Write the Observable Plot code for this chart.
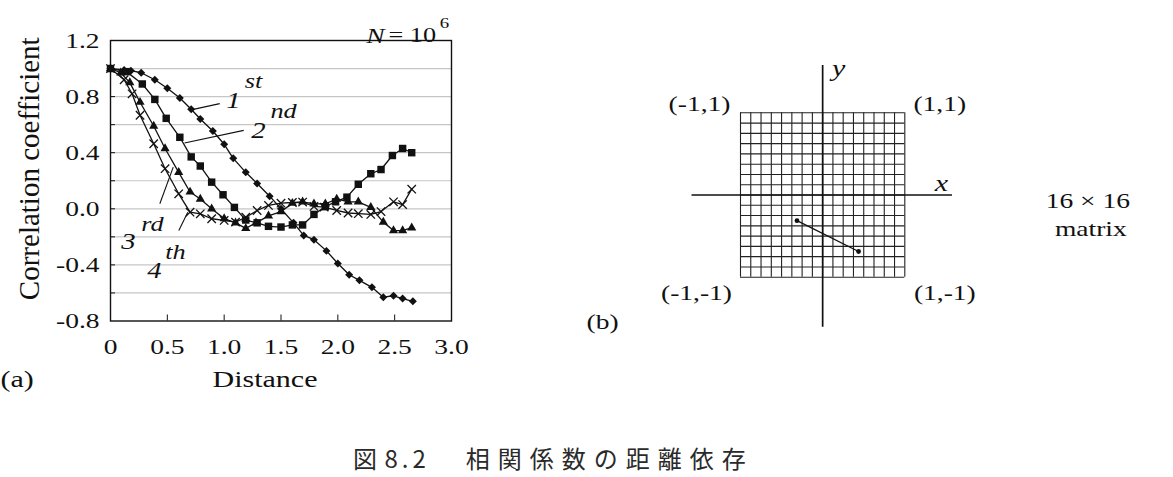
<!DOCTYPE html>
<html><head><meta charset="utf-8">
<script src="https://cdn.jsdelivr.net/npm/d3@7"></script>
<script src="https://cdn.jsdelivr.net/npm/@observablehq/plot@0.6"></script>
<style>
html,body{margin:0;padding:0;background:#fff;}
#fig{position:relative;width:1173px;height:477px;overflow:hidden;background:#fff;}
#caption{position:absolute;left:353px;top:446px;font-family:"Noto Sans CJK JP";font-weight:400;font-size:24px;line-height:24px;white-space:pre;color:#2a2a2a;}
</style></head>
<body><div id="fig"><div id="caption"><span style="letter-spacing:1px">図 </span><span style="letter-spacing:4px">8.2</span><span style="letter-spacing:12px">　</span><span style="letter-spacing:8px">相関係数の距離依存</span></div></div>
<script>
// ---- panel (a) data: correlation coefficient vs distance (N = 10^6) ----
const s1x = [0, 0.12, 0.18, 0.27, 0.39, 0.50, 0.61, 0.71, 0.79, 0.90, 1.00, 1.08, 1.19, 1.29, 1.40, 1.50, 1.61, 1.70, 1.79, 1.90, 2.00, 2.10, 2.19, 2.30, 2.40, 2.49, 2.57, 2.66];
const s1y = [1.00, 0.99, 0.985, 0.97, 0.92, 0.86, 0.79, 0.71, 0.64, 0.555, 0.46, 0.36, 0.26, 0.18, 0.09, 0.00, -0.10, -0.19, -0.22, -0.30, -0.39, -0.47, -0.51, -0.56, -0.63, -0.62, -0.64, -0.66];
const s2x = [0, 0.14, 0.28, 0.39, 0.49, 0.61, 0.71, 0.79, 0.89, 0.99, 1.09, 1.19, 1.29, 1.39, 1.50, 1.60, 1.69, 1.79, 1.89, 1.98, 2.08, 2.18, 2.29, 2.38, 2.48, 2.57, 2.65];
const s2y = [1.00, 0.978, 0.89, 0.78, 0.645, 0.51, 0.37, 0.305, 0.19, 0.10, 0.01, -0.08, -0.10, -0.125, -0.13, -0.115, -0.115, -0.04, 0.015, 0.05, 0.083, 0.175, 0.25, 0.28, 0.38, 0.43, 0.40];
const s3x = [0, 0.09, 0.17, 0.26, 0.38, 0.48, 0.60, 0.70, 0.79, 0.89, 1.00, 1.10, 1.19, 1.28, 1.39, 1.50, 1.60, 1.69, 1.79, 1.89, 1.99, 2.09, 2.18, 2.29, 2.40, 2.49, 2.57, 2.65];
const s3y = [1.00, 0.97, 0.90, 0.76, 0.59, 0.43, 0.26, 0.12, 0.07, 0.00, -0.07, -0.10, -0.14, -0.10, -0.05, -0.02, 0.04, 0.05, 0.035, 0.035, 0.07, 0.05, 0.05, 0.01, -0.095, -0.155, -0.155, -0.135];
const s4x = [0, 0.12, 0.19, 0.26, 0.38, 0.48, 0.60, 0.70, 0.79, 0.89, 1.00, 1.10, 1.19, 1.29, 1.39, 1.50, 1.60, 1.69, 1.79, 1.88, 1.99, 2.09, 2.18, 2.29, 2.38, 2.49, 2.57, 2.65];
const s4y = [1.00, 0.92, 0.82, 0.667, 0.464, 0.286, 0.107, -0.024, -0.036, -0.071, -0.083, -0.095, -0.06, -0.012, 0.024, 0.04, 0.045, 0.048, 0.017, 0.012, -0.012, -0.03, -0.035, -0.04, -0.02, 0.05, 0.03, 0.14];

const seriesNames = ["1st", "2nd", "3rd", "4th"];
const seriesSymbols = ["diamond2", "square", "triangle", "times"];

const xTicks = [0, 0.5, 1.0, 1.5, 2.0, 2.5, 3.0];
const yTicks = [-0.8, -0.4, 0.0, 0.4, 0.8, 1.2];
const yGrid = [-0.6, -0.4, -0.2, 0.0, 0.2, 0.4, 0.6, 0.8, 1.0];

// labels 1st..4th (position in data units) and their leader lines
const labelNums = [{x: 1.082, y: 0.774, t: "1"}, {x: 1.302, y: 0.559, t: "2"}, {x: 0.158, y: -0.234, t: "3"}, {x: 0.387, y: -0.441, t: "4"}];
const labelSups = [{x: 1.258, y: 0.912, t: "st"}, {x: 1.522, y: 0.698, t: "nd"}, {x: 0.369, y: -0.109, t: "rd"}, {x: 0.572, y: -0.309, t: "th"}];
const leaders = [
  {x1: 0.719, y1: 0.707, x2: 0.961, y2: 0.750},
  {x1: 0.651, y1: 0.469, x2: 1.172, y2: 0.559},
  {x1: 0.434, y1: 0.036, x2: 0.552, y2: 0.297},
  {x1: 0.601, y1: -0.155, x2: 0.680, y2: -0.024}
];

// ---- panel (b) data ----
const matrixSize = 16;
const pairPoints = [{x: -0.3125, y: -0.3125}, {x: 0.4375, y: -0.6875}];
const corners = [{x: -1, y: 1, t: "(-1,1)"}, {x: 1, y: 1, t: "(1,1)"}, {x: -1, y: -1, t: "(-1,-1)"}, {x: 1, y: -1, t: "(1,-1)"}];

const FONT = "'Liberation Serif', 'Times New Roman', serif";
const INK = "#111";

const xs = [s1x, s2x, s3x, s4x], ys = [s1y, s2y, s3y, s4y];
const rows = seriesNames.flatMap((name, k) => xs[k].map((x, i) => ({series: name, x, y: ys[k][i]})));

const frameW = 341, frameH = 280.5;

const dotMarks = seriesNames.map((name, k) => {
  const data = rows.filter(r => r.series === name);
  const sym = seriesSymbols[k];
  if (sym === "times") return Plot.dot(data, {x: "x", y: "y", symbol: sym, r: 3.9, stroke: INK, strokeWidth: 1.3, fill: "none"});
  const r = sym === "diamond2" ? 3.6 : sym === "square" ? 4.2 : 3.4;
  return Plot.dot(data, {x: "x", y: "y", symbol: sym, r, fill: INK, stroke: "none"});
});

const plotA = Plot.plot({
  width: 471, height: 410,
  marginLeft: 110, marginRight: 20, marginTop: 40, marginBottom: 89.5,
  style: {fontFamily: FONT, background: "transparent", overflow: "visible"},
  x: {domain: [0, 3]},
  y: {domain: [-0.8, 1.2]},
  marks: [
    Plot.ruleY(yGrid, {stroke: "#c6c6c6", strokeWidth: 1.2}),
    Plot.tickX(xTicks.slice(1, -1), {x: d => d, insetTop: frameH - 6, stroke: INK, strokeWidth: 1}),
    Plot.tickY(yGrid, {y: d => d, insetRight: frameW - 5, stroke: INK, strokeWidth: 1}),
    Plot.frame({stroke: INK, strokeWidth: 1.4}),
    Plot.axisX(xTicks, {tickSize: 0, tickPadding: 17, tickFormat: d => d === 0 ? "0" : d.toFixed(1), fontSize: 22, fill: INK, label: null}),
    Plot.axisY(yTicks, {tickSize: 0, tickPadding: 11, tickFormat: d => d.toFixed(1), fontSize: 22, fill: INK, label: null}),
    Plot.line(rows, {x: "x", y: "y", z: "series", stroke: INK, strokeWidth: 1.3}),
    ...dotMarks,
    Plot.link(leaders, {x1: "x1", y1: "y1", x2: "x2", y2: "y2", stroke: INK, strokeWidth: 1.1}),
    Plot.text(labelNums, {x: "x", y: "y", text: "t", fontSize: 23, fontStyle: "italic", fill: INK}),
    Plot.text(labelSups, {x: "x", y: "y", text: "t", fontSize: 21, fontStyle: "italic", fill: INK}),
    Plot.text(["N"], {frameAnchor: "top-right", textAnchor: "middle", dx: -76, dy: -13, fontSize: 22, fontStyle: "italic", fill: INK}),
    Plot.text(["= 10"], {frameAnchor: "top-right", textAnchor: "start", dx: -63, dy: -13, fontSize: 21, fill: INK}),
    Plot.text(["6"], {frameAnchor: "top-right", textAnchor: "middle", dx: -7, dy: -23, fontSize: 15, fill: INK}),
    Plot.text(["Correlation coefficient"], {frameAnchor: "left", textAnchor: "middle", rotate: -90, dx: -81, dy: -12, fontSize: 29, fill: INK}),
    Plot.text(["Distance"], {frameAnchor: "bottom", textAnchor: "middle", dx: -16, dy: 65.5, fontSize: 24, fill: INK}),
    Plot.text(["(a)"], {frameAnchor: "bottom-left", textAnchor: "start", dx: -110, dy: 65.5, fontSize: 24, fill: INK})
  ]
});

const gridPos = d3.range(matrixSize + 1).map(i => -1 + 2 * i / matrixSize);

const plotB = Plot.plot({
  width: 533, height: 320,
  marginLeft: 100, marginRight: 268.7, marginTop: 72.3, marginBottom: 83.3,
  style: {fontFamily: FONT, background: "transparent", overflow: "visible"},
  x: {domain: [-1, 1], axis: null},
  y: {domain: [-1, 1], axis: null},
  marks: [
    Plot.ruleX(gridPos, {y1: -1, y2: 1, stroke: "#222", strokeWidth: 1.1}),
    Plot.ruleY(gridPos, {x1: -1, x2: 1, stroke: "#222", strokeWidth: 1.1}),
    Plot.ruleY([0], {x1: -1.59, x2: 1.58, stroke: INK, strokeWidth: 1.7}),
    Plot.ruleX([0], {y1: -1.61, y2: 1.575, stroke: INK, strokeWidth: 1.7}),
    Plot.line(pairPoints, {x: "x", y: "y", stroke: INK, strokeWidth: 1.3}),
    Plot.dot(pairPoints, {x: "x", y: "y", r: 2.4, fill: INK}),
    Plot.text(corners.slice(0, 1), {x: "x", y: "y", text: "t", dx: -41, dy: -9, fontSize: 22, fill: INK}),
    Plot.text(corners.slice(1, 2), {x: "x", y: "y", text: "t", dx: 35, dy: -9, fontSize: 22, fill: INK}),
    Plot.text(corners.slice(2, 3), {x: "x", y: "y", text: "t", dx: -44, dy: 16, fontSize: 22, fill: INK}),
    Plot.text(corners.slice(3, 4), {x: "x", y: "y", text: "t", dx: 40, dy: 16, fontSize: 22, fill: INK}),
    Plot.text(["y"], {x: 0, y: 1.575, dx: 16, dy: 3, fontSize: 24, fontStyle: "italic", fill: INK}),
    Plot.text(["x"], {x: 1.58, y: 0, dx: -11, dy: -12, fontSize: 24, fontStyle: "italic", fill: INK}),
    Plot.text([`${matrixSize} × ${matrixSize}`], {frameAnchor: "right", textAnchor: "middle", dx: 183, dy: 5.5, fontSize: 22, fill: INK}),
    Plot.text(["matrix"], {frameAnchor: "right", textAnchor: "middle", dx: 186, dy: 33.5, fontSize: 22, fill: INK}),
    Plot.text(["(b)"], {frameAnchor: "bottom-left", textAnchor: "middle", dx: -138, dy: 51.3, fontSize: 22, fill: INK})
  ]
});

const fig = document.getElementById("fig");
for (const [svg, left, top] of [[plotA, 0, 0], [plotB, 640, 40]]) {
  svg.style.position = "absolute";
  svg.style.left = left + "px";
  svg.style.top = top + "px";
  svg.style.maxWidth = "none";
  fig.appendChild(svg);
}

// the reference figure is horizontally stretched: widen the upright text runs
function stretch(svg, k) {
  svg.querySelectorAll("text").forEach(t => {
    const tr = t.getAttribute("transform") || "";
    if (tr.includes("rotate")) return;
    const L = t.getComputedTextLength();
    if (L > 0) {
      t.setAttribute("textLength", (L * k).toFixed(2));
      t.setAttribute("lengthAdjust", "spacingAndGlyphs");
    }
  });
}
stretch(plotA, 1.25);
stretch(plotB, 1.25);
</script></body></html>
